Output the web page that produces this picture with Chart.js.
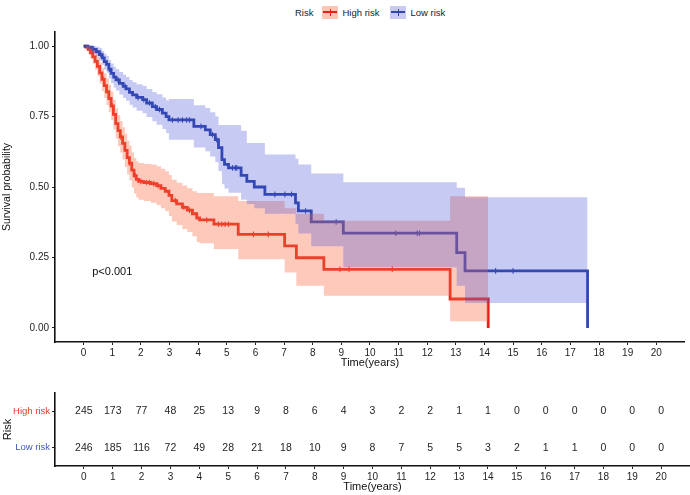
<!DOCTYPE html>
<html>
<head>
<meta charset="utf-8">
<script src="https://cdn.jsdelivr.net/npm/chart.js"></script>
<style>
  body { margin: 0; background: #fff; font-family: "Liberation Sans", Arial, sans-serif; }
  #wrap { position: relative; width: 690px; height: 495px; overflow: hidden; }
  #km { position: absolute; left: 0; top: 0; }
  #tbl { position: absolute; left: 0; top: 380px; }
  #legend { position: absolute; top: 5px; left: 295px; height: 14px; font-size: 9.5px; color: #222;
            display: flex; align-items: center; white-space: nowrap; }
  .key { width: 16px; height: 13px; position: relative; }
  .key::before { content: ""; position: absolute; left: 1px; right: 1px; top: 5.5px; height: 2px; background: currentColor; }
  .key::after { content: ""; position: absolute; left: 7.5px; top: 3px; width: 1px; height: 7px; background: currentColor; }
</style>
</head>
<body>
<div id="wrap">
  <div id="legend">
    <span>Risk</span>
    <span class="key" style="margin-left:9px;margin-right:4px;background:#fdc6b4;color:#e52218"></span>
    <span>High risk</span>
    <span class="key" style="margin-left:11px;margin-right:4px;background:#c8caf1;color:#3049a8"></span>
    <span>Low risk</span>
  </div>
  <canvas id="km" width="690" height="372"></canvas>
  <canvas id="tbl" width="690" height="115"></canvas>
</div>
<script>
// axis ticks
const timeTicks = [0, 1, 2, 3, 4, 5, 6, 7, 8, 9, 10, 11, 12, 13, 14, 15, 16, 17, 18, 19, 20];
const probTicks = [0, 0.25, 0.5, 0.75, 1];

// High risk group: step times, survival, 95% CI
const highTime = [0, 0.08, 0.16, 0.24, 0.32, 0.40, 0.48, 0.56, 0.64, 0.72, 0.80, 0.88, 0.96, 1.04, 1.12, 1.20, 1.28, 1.36, 1.44, 1.52, 1.60, 1.68, 1.76, 1.84, 1.92, 2.10, 2.35, 2.55, 2.70, 2.85, 2.98, 3.08, 3.25, 3.45, 3.62, 3.80, 3.95, 4.05, 4.55, 5.40, 7.02, 7.43, 8.39, 12.80, 14.13];
const highSurv = [1, 0.996, 0.988, 0.976, 0.962, 0.946, 0.928, 0.905, 0.882, 0.860, 0.838, 0.814, 0.788, 0.758, 0.725, 0.700, 0.678, 0.655, 0.630, 0.604, 0.585, 0.560, 0.540, 0.527, 0.520, 0.516, 0.512, 0.505, 0.495, 0.485, 0.470, 0.452, 0.440, 0.428, 0.418, 0.405, 0.390, 0.383, 0.368, 0.332, 0.291, 0.249, 0.208, 0.1025, 0];
const highUpper = [1, 1, 1, 0.995, 0.986, 0.975, 0.961, 0.942, 0.923, 0.904, 0.885, 0.863, 0.839, 0.810, 0.779, 0.755, 0.734, 0.712, 0.689, 0.664, 0.646, 0.622, 0.603, 0.591, 0.585, 0.582, 0.580, 0.574, 0.565, 0.556, 0.543, 0.526, 0.515, 0.505, 0.496, 0.485, 0.479, 0.479, 0.467, 0.450, 0.425, 0.405, 0.380, 0.467, 0.467];
const highLower = [1, 0.988, 0.974, 0.956, 0.937, 0.916, 0.894, 0.867, 0.841, 0.816, 0.791, 0.765, 0.737, 0.705, 0.671, 0.645, 0.622, 0.598, 0.571, 0.544, 0.524, 0.498, 0.477, 0.463, 0.455, 0.450, 0.444, 0.436, 0.425, 0.414, 0.397, 0.378, 0.365, 0.351, 0.340, 0.325, 0.305, 0.300, 0.280, 0.244, 0.197, 0.150, 0.114, 0.024, 0.024];
const highCensor = [0.3, 0.7, 1.0, 1.3, 1.6, 1.8, 2.0, 2.2, 2.3, 2.45, 2.6, 3.2, 3.5, 3.7, 4.3, 4.71, 4.83, 4.94, 5.06, 5.93, 6.45, 8.95, 9.27, 10.78];

// Low risk group
const lowTime = [0, 0.15, 0.30, 0.44, 0.55, 0.65, 0.72, 0.80, 0.88, 0.96, 1.05, 1.13, 1.25, 1.38, 1.48, 1.60, 1.71, 1.85, 2.06, 2.20, 2.40, 2.55, 2.75, 2.88, 2.98, 3.85, 4.25, 4.42, 4.60, 4.71, 4.83, 4.92, 5.06, 5.50, 5.70, 5.96, 6.33, 7.40, 7.50, 7.95, 9.07, 13.03, 13.32, 17.60];
const lowSurv = [1, 0.996, 0.988, 0.980, 0.970, 0.958, 0.945, 0.935, 0.918, 0.903, 0.890, 0.880, 0.868, 0.857, 0.848, 0.836, 0.827, 0.818, 0.810, 0.798, 0.785, 0.775, 0.762, 0.750, 0.738, 0.715, 0.703, 0.686, 0.668, 0.640, 0.597, 0.580, 0.568, 0.541, 0.520, 0.500, 0.474, 0.444, 0.415, 0.376, 0.336, 0.267, 0.2025, 0];
const lowUpper = [1, 1, 1, 0.998, 0.992, 0.983, 0.973, 0.965, 0.951, 0.938, 0.927, 0.918, 0.908, 0.898, 0.890, 0.880, 0.872, 0.865, 0.858, 0.848, 0.837, 0.829, 0.818, 0.808, 0.812, 0.790, 0.780, 0.765, 0.750, 0.720, 0.720, 0.720, 0.720, 0.700, 0.656, 0.656, 0.615, 0.600, 0.580, 0.548, 0.517, 0.497, 0.464, 0.464];
const lowLower = [1, 0.988, 0.974, 0.962, 0.948, 0.933, 0.917, 0.905, 0.885, 0.868, 0.853, 0.842, 0.828, 0.816, 0.806, 0.792, 0.782, 0.771, 0.762, 0.748, 0.733, 0.721, 0.706, 0.692, 0.668, 0.640, 0.627, 0.608, 0.588, 0.557, 0.510, 0.495, 0.480, 0.455, 0.440, 0.425, 0.405, 0.370, 0.335, 0.290, 0.215, 0.150, 0.088, 0.088];
const lowCensor = [0.35, 0.6, 0.9, 1.2, 1.45, 1.9, 2.1, 2.3, 2.5, 2.65, 3.1, 3.3, 3.45, 3.6, 3.7, 4.1, 4.5, 4.65, 5.2, 5.3, 5.35, 6.68, 7.03, 7.26, 7.75, 8.82, 10.9, 11.65, 11.73, 14.39, 15.0];

// numbers at risk
const riskGroups = ["High risk", "Low risk"];
const riskHigh = [245, 173, 77, 48, 25, 13, 9, 8, 6, 4, 3, 2, 2, 1, 1, 0, 0, 0, 0, 0, 0];
const riskLow = [246, 185, 116, 72, 49, 28, 21, 18, 10, 9, 8, 7, 5, 5, 3, 2, 1, 1, 0, 0, 0];

const pText = "p<0.001";
const pPos = [0.3, 0.2];

const RED = "#e52218";
const BLUE = "#3049a8";
const RED_BAND = "rgba(249,112,76,0.38)";
const BLUE_BAND = "rgba(62,72,212,0.29)";
const INK = "#1e1e1e";

Chart.defaults.font.family = '"Liberation Sans", Arial, sans-serif';
Chart.defaults.color = INK;

function pts(xs, ys) {
	return xs.map((x, i) => ({ x: x, y: ys[i] }));
}

// value of the step curve at time t (for censor marks)
function stepAt(xs, ys, t) {
	let v = ys[0];
	for (let i = 0; i < xs.length; i++) {
		if (xs[i] <= t) v = ys[i];
	}
	return v;
}

function timeAxis(h, titlePad) {
	return {
		type: "linear",
		min: -1,
		max: 21,
		afterBuildTicks: s => { s.ticks = timeTicks.map(v => ({ value: v })); },
		afterFit: s => { s.height = h; },
		grid: { drawOnChartArea: false, drawTicks: true, tickLength: 3, tickColor: INK, lineWidth: 1 },
		border: { display: true, color: "#111", width: 1.6 },
		ticks: { autoSkip: false, maxRotation: 0, padding: 2, color: INK, font: { size: 10 } },
		title: { display: true, text: "Time(years)", color: "#111", font: { size: 11 }, padding: { top: 0, bottom: titlePad } },
	};
}

const band = (data, bg, fill, order) => ({
	data: data,
	showLine: true,
	stepped: true,
	borderWidth: 0,
	borderColor: "rgba(0,0,0,0)",
	backgroundColor: bg,
	pointRadius: 0,
	fill: fill,
	order: order,
});

const curve = (data, color, order) => ({
	data: data,
	showLine: true,
	stepped: true,
	borderWidth: 2.8,
	borderColor: color,
	pointRadius: 0,
	fill: false,
	order: order,
});

const censor = (times, xs, ys, color, order) => ({
	data: times.map(t => ({ x: t, y: stepAt(xs, ys, t) })),
	showLine: false,
	pointStyle: "line",
	rotation: 90,
	pointRadius: 2.8,
	borderWidth: 1.1,
	borderColor: color,
	order: order,
});

const pValuePlugin = {
	id: "pvalue",
	afterDatasetsDraw(chart) {
		const { ctx, scales } = chart;
		ctx.save();
		ctx.font = '11px "Liberation Sans"';
		ctx.fillStyle = "#111";
		ctx.textBaseline = "middle";
		ctx.fillText(pText, scales.x.getPixelForValue(pPos[0]), scales.y.getPixelForValue(pPos[1]));
		ctx.restore();
	},
};

new Chart(document.getElementById("km"), {
	type: "scatter",
	data: {
		datasets: [
			band(pts(lowTime, lowUpper), BLUE_BAND, "+1", 0),
			band(pts(lowTime, lowLower), BLUE_BAND, false, 0),
			band(pts(highTime, highUpper), RED_BAND, "+1", 1),
			band(pts(highTime, highLower), RED_BAND, false, 1),
			curve(pts(lowTime, lowSurv), BLUE, 2),
			curve(pts(highTime, highSurv), RED, 3),
			censor(lowCensor, lowTime, lowSurv, BLUE, 2),
			censor(highCensor, highTime, highSurv, RED, 3),
		],
	},
	options: {
		responsive: false,
		animation: false,
		layout: { padding: { top: 32, left: 0, right: 0, bottom: 0 } },
		plugins: { legend: { display: false }, tooltip: { enabled: false } },
		scales: {
			x: timeAxis(30, 2),
			y: {
				min: -0.05,
				max: 1.05,
				afterBuildTicks: s => { s.ticks = probTicks.map(v => ({ value: v })); },
				afterFit: s => { s.width = 55; },
				grid: { drawOnChartArea: false, drawTicks: true, tickLength: 3, tickColor: INK },
				border: { display: true, color: "#111", width: 1.6 },
				ticks: { padding: 3, color: INK, font: { size: 10 }, callback: v => v.toFixed(2) },
				title: { display: true, text: "Survival probability", color: "#111", font: { size: 10.5 }, padding: { top: 1, bottom: 0 } },
			},
		},
	},
	plugins: [pValuePlugin],
});

// risk table: numbers written at the points' positions
const riskTextPlugin = {
	id: "risktext",
	afterDatasetsDraw(chart) {
		const { ctx } = chart;
		const tables = [riskHigh, riskLow];
		ctx.save();
		ctx.font = '10.5px "Liberation Sans"';
		ctx.fillStyle = INK;
		ctx.textAlign = "center";
		ctx.textBaseline = "middle";
		chart.data.datasets.forEach((ds, di) => {
			chart.getDatasetMeta(di).data.forEach((el, i) => {
				ctx.fillText(String(tables[di][i]), el.x, el.y);
			});
		});
		ctx.restore();
	},
};

new Chart(document.getElementById("tbl"), {
	type: "scatter",
	data: {
		datasets: [
			{ data: timeTicks.map(t => ({ x: t, y: riskGroups[0] })), pointRadius: 0 },
			{ data: timeTicks.map(t => ({ x: t, y: riskGroups[1] })), pointRadius: 0 },
		],
	},
	options: {
		responsive: false,
		animation: false,
		layout: { padding: { top: 13, left: 0, right: 0, bottom: 0 } },
		plugins: { legend: { display: false }, tooltip: { enabled: false } },
		scales: {
			x: timeAxis(29, 1.5),
			y: {
				type: "category",
				labels: riskGroups,
				offset: true,
				afterFit: s => { s.width = 55; },
				grid: { drawOnChartArea: false, drawTicks: true, tickLength: 3, tickColor: INK, offset: false },
				border: { display: true, color: "#111", width: 1.6 },
				ticks: { padding: 2, font: { size: 9.5 }, color: c => (c.index === 0 ? "#f0372b" : "#4257c2") },
				title: { display: true, text: "Risk", color: "#111", font: { size: 11 }, padding: { top: 1, bottom: 0 } },
			},
		},
	},
	plugins: [riskTextPlugin],
});
</script>
</body>
</html>
